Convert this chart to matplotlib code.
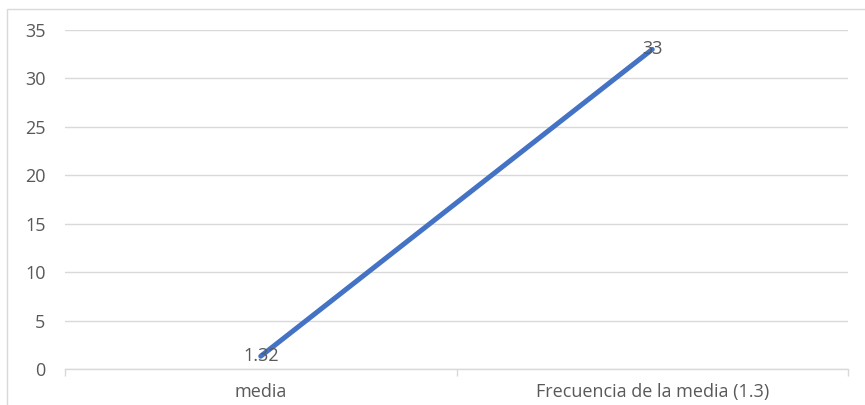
import matplotlib.pyplot as plt
from matplotlib.patches import Rectangle

categories = ["media", "Frecuencia de la media (1.3)"]
values = [1.32, 33]
value_labels = ["1.32", "33"]
y_ticks = [0, 5, 10, 15, 20, 25, 30, 35]

TEXT = "#595959"
GRID = "#D9D9D9"
LINE = "#4472C4"
FS = 13

plt.rcParams["font.family"] = ["Open Sans", "DejaVu Sans"]

fig = plt.figure(figsize=(8.65, 4.05), dpi=100)
ax = fig.add_axes([65 / 865, 1 - 369 / 405, 783 / 865, 339 / 405])

# chart area frame
fig.patches.append(Rectangle((7 / 865, -0.05), 1.0, 1 - 9 / 405 + 0.05,
                             transform=fig.transFigure, fill=False,
                             edgecolor=GRID, linewidth=1.0))

x = list(range(len(categories)))
ax.plot(x, values, color=LINE, linewidth=3.6, solid_capstyle="round", zorder=3)
for xi, v, lab in zip(x, values, value_labels):
    ax.text(xi, v, lab, ha="center", va="center", fontsize=FS, color=TEXT, zorder=4)

ax.set_xlim(-0.5, len(categories) - 0.5)
ax.set_ylim(0, 35)
ax.set_yticks(y_ticks)
ax.set_xticks(x)
ax.set_xticklabels(categories)
ax.set_xticks([i - 0.5 for i in range(len(categories) + 1)], minor=True)

ax.grid(axis="y", color=GRID, linewidth=1.0)
ax.set_axisbelow(True)
for s in ["top", "right", "left"]:
    ax.spines[s].set_visible(False)
ax.spines["bottom"].set_color(GRID)
ax.spines["bottom"].set_linewidth(1.0)

ax.tick_params(axis="y", length=0, pad=14, labelsize=FS, labelcolor=TEXT)
ax.tick_params(axis="x", which="major", length=0, pad=10, labelsize=FS, labelcolor=TEXT)
ax.tick_params(axis="x", which="minor", length=5, color=GRID, width=1.0)

fig.savefig("out.png", dpi=100)
